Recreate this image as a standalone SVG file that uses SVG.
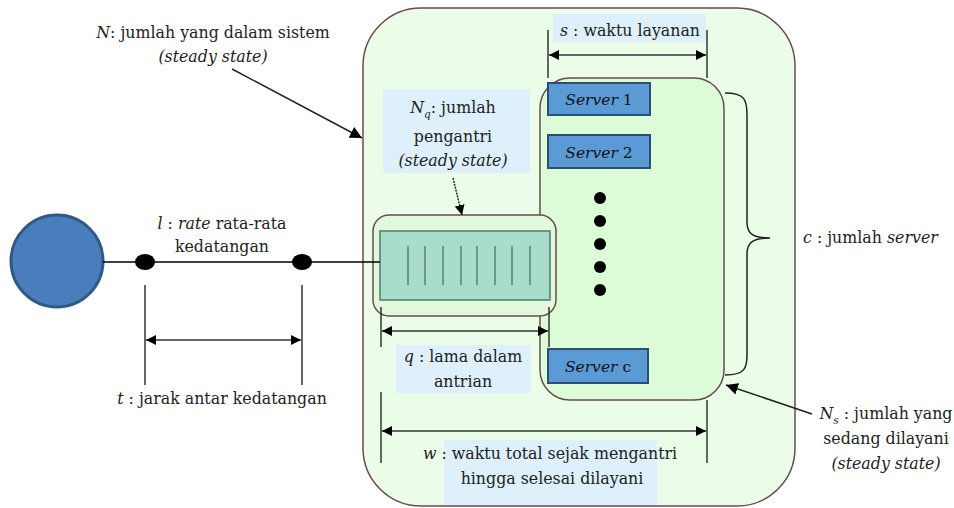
<svg xmlns="http://www.w3.org/2000/svg" width="954" height="508" viewBox="0 0 954 508">
<defs>
<marker id="ah" viewBox="0 0 10 10" refX="10" refY="5" markerWidth="10" markerHeight="10" markerUnits="userSpaceOnUse" orient="auto-start-reverse"><path d="M0,0 L10,5 L0,10 z" fill="#000"/></marker>
<marker id="ah2" viewBox="0 0 10 10" refX="10" refY="5" markerWidth="12" markerHeight="12" markerUnits="userSpaceOnUse" orient="auto-start-reverse"><path d="M0,0 L10,5 L0,10 z" fill="#000"/></marker>
</defs>
<style>
text{font-family:"DejaVu Serif",serif;font-size:15.8px;fill:#222}
.i{font-style:italic}
.lbl{fill:#ddf0fc}
.tick{stroke:#333;stroke-width:1.5;fill:none}
.dim{stroke:#333;stroke-width:1.5;fill:none;marker-start:url(#ah);marker-end:url(#ah)}
.srv{fill:#5b9bd5;stroke:#2d4d74;stroke-width:2}
.st{font-size:15.5px;fill:#111}
.dot{fill:#000}
</style>
<g id="system">
<rect x="363" y="8" width="432" height="498" rx="58" fill="#ebfde8" stroke="#6a4a50" stroke-width="1.5"/>
</g>
<g id="server-area">
<rect x="540" y="78" width="184" height="322" rx="30" fill="#dbfcd6" stroke="#6a4a50" stroke-width="1.5"/>
</g>
<g id="queue">
<rect x="373" y="215" width="183" height="101" rx="16" fill="#e2f8dc" stroke="#6a4a50" stroke-width="1.5"/>
<rect x="380" y="231" width="170" height="69" fill="#a8dccb" stroke="#4c7c6a" stroke-width="1.5"/>
<g stroke="#4a6a50" stroke-width="1.2">
<line x1="408" y1="246" x2="408" y2="285"/><line x1="425" y1="246" x2="425" y2="285"/><line x1="443" y1="246" x2="443" y2="285"/><line x1="461" y1="246" x2="461" y2="285"/><line x1="477" y1="246" x2="477" y2="285"/><line x1="495" y1="246" x2="495" y2="285"/><line x1="512" y1="246" x2="512" y2="285"/><line x1="530" y1="246" x2="530" y2="285"/>
</g>
</g>
<g id="server1"><rect class="srv" x="548" y="83" width="102" height="32"/><text x="599" y="105" text-anchor="middle" class="st"><tspan class="i">Server</tspan> 1</text></g>
<g id="server2"><rect class="srv" x="548" y="135" width="102" height="33"/><text x="599" y="158" text-anchor="middle" class="st"><tspan class="i">Server</tspan> 2</text></g>
<g id="serverc"><rect class="srv" x="548" y="349" width="100" height="34"/><text x="598" y="372" text-anchor="middle" class="st"><tspan class="i">Server</tspan> c</text></g>
<g id="dots">
<circle class="dot" cx="600" cy="198" r="6"/><circle class="dot" cx="600" cy="221" r="6"/><circle class="dot" cx="600" cy="244" r="6"/><circle class="dot" cx="600" cy="267" r="6"/><circle class="dot" cx="600" cy="290" r="6"/>
</g>
<g id="source"><circle cx="57" cy="261" r="46" fill="#4a7dbb" stroke="#30598a" stroke-width="3"/></g>
<g id="connectors">
<line x1="103" y1="262" x2="380" y2="262" stroke="#000" stroke-width="1.3"/>
<ellipse class="dot" cx="145" cy="262" rx="10" ry="8"/>
<ellipse class="dot" cx="302" cy="262" rx="10" ry="8"/>
<line class="tick" x1="145" y1="285" x2="145" y2="385"/>
<line class="tick" x1="302" y1="285" x2="302" y2="385"/>
<line class="dim" x1="146" y1="340" x2="301" y2="340"/>
<line x1="232" y1="69" x2="362" y2="138" stroke="#222" stroke-width="1.5" marker-end="url(#ah2)"/>
<line x1="453" y1="178" x2="462" y2="215" stroke="#222" stroke-width="1.5" stroke-dasharray="2,1" marker-end="url(#ah)"/>
<line class="tick" x1="548" y1="30" x2="548" y2="78"/>
<line class="tick" x1="707" y1="30" x2="707" y2="78"/>
<line class="dim" x1="549" y1="55" x2="706" y2="55"/>
<line class="tick" x1="381" y1="307" x2="381" y2="347"/>
<line class="tick" x1="549" y1="307" x2="549" y2="347"/>
<line class="dim" x1="382" y1="331" x2="548" y2="331"/>
<line class="tick" x1="381" y1="392" x2="381" y2="463"/>
<line class="tick" x1="707" y1="400" x2="707" y2="463"/>
<line class="dim" x1="382" y1="431" x2="706" y2="431"/>
<path d="M725,93 C745,93 747,100 747,115 L747,222 C747,233 752,238 770,238 C752,238 747,243 747,254 L747,355 C747,368 745,375 725,375" fill="none" stroke="#222" stroke-width="1.5"/>
<line x1="812" y1="414" x2="726" y2="385" stroke="#222" stroke-width="1.5" marker-end="url(#ah2)"/>
</g>
<g id="label-N">
<text x="213" y="38" text-anchor="middle"><tspan class="i">N</tspan>: jumlah yang dalam sistem</text>
<text x="213" y="62" text-anchor="middle" class="i">(steady state)</text>
</g>
<g id="label-l">
<text x="222" y="229" text-anchor="middle"><tspan class="i">l</tspan> : <tspan class="i">rate</tspan> rata-rata</text>
<text x="222" y="252" text-anchor="middle">kedatangan</text>
</g>
<g id="label-t"><text x="222" y="404" text-anchor="middle"><tspan class="i">t</tspan> : jarak antar kedatangan</text></g>
<g id="label-Nq">
<rect class="lbl" x="383" y="89" width="147" height="84"/>
<text x="453" y="113" text-anchor="middle"><tspan class="i">N</tspan><tspan class="i" font-size="10.5" dy="5">q</tspan><tspan dy="-5">: jumlah</tspan></text>
<text x="453" y="142" text-anchor="middle">pengantri</text>
<text x="453" y="166" text-anchor="middle" class="i">(steady state)</text>
</g>
<g id="label-s">
<rect class="lbl" x="553" y="14" width="153" height="28"/>
<text x="630" y="36" text-anchor="middle"><tspan class="i">s</tspan> : waktu layanan</text>
</g>
<g id="label-c"><text x="803" y="243"><tspan class="i">c</tspan> : jumlah <tspan class="i">server</tspan></text></g>
<g id="label-q">
<rect class="lbl" x="396" y="345" width="135" height="48"/>
<text x="463" y="362" text-anchor="middle"><tspan class="i">q</tspan> : lama dalam</text>
<text x="463" y="387" text-anchor="middle">antrian</text>
</g>
<g id="label-w">
<rect class="lbl" x="444" y="440" width="213" height="65"/>
<text x="550" y="459" text-anchor="middle"><tspan class="i">w</tspan> : waktu total sejak mengantri</text>
<text x="552" y="484" text-anchor="middle">hingga selesai dilayani</text>
</g>
<g id="label-Ns">
<text x="886" y="419" text-anchor="middle"><tspan class="i">N</tspan><tspan class="i" font-size="10.5" dy="5">s</tspan><tspan dy="-5"> : jumlah yang</tspan></text>
<text x="886" y="444" text-anchor="middle">sedang dilayani</text>
<text x="886" y="469" text-anchor="middle" class="i">(steady state)</text>
</g>
</svg>
